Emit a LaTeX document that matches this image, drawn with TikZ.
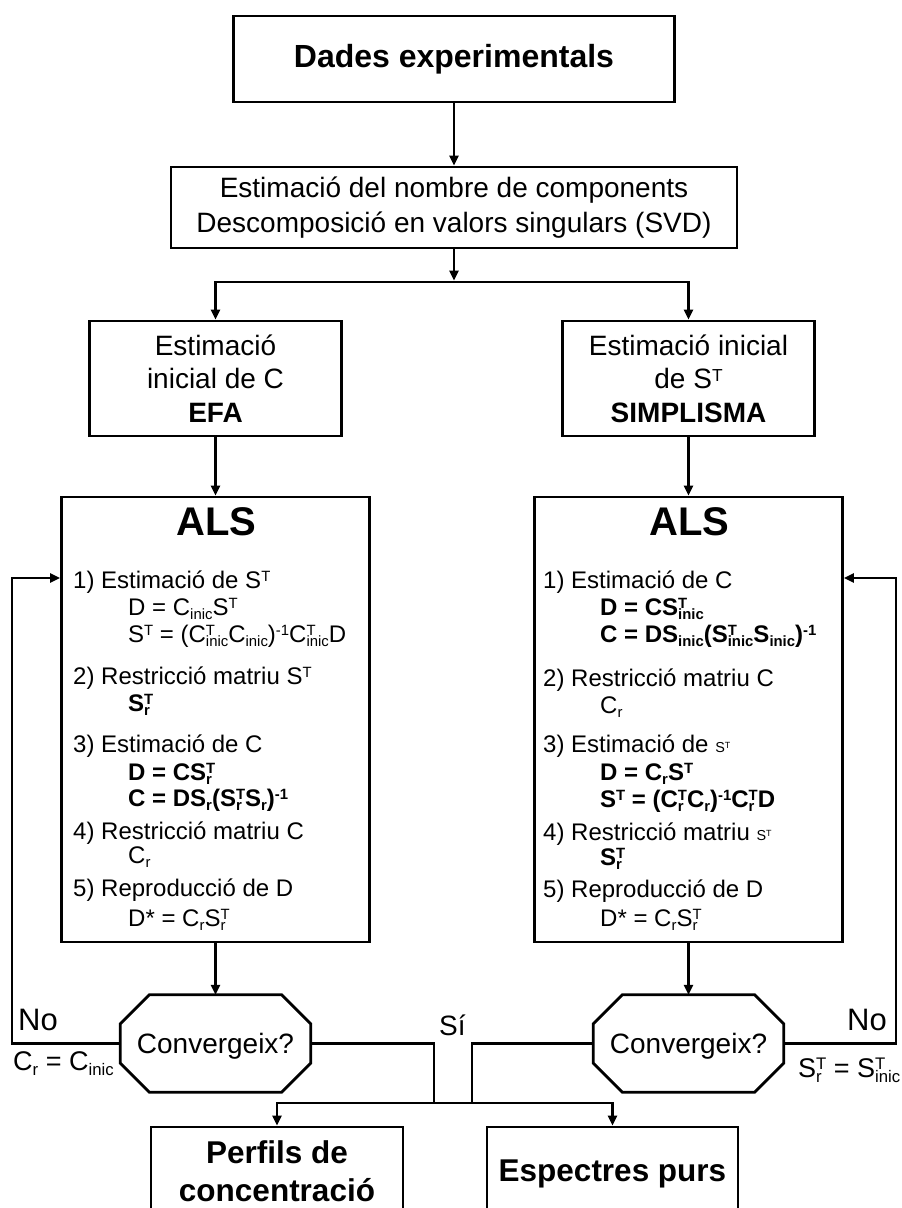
\documentclass[tikz,border=0pt]{standalone}
\usepackage{fontspec}
\setmainfont{Liberation Sans}
\usepackage{graphicx}
\usetikzlibrary{arrows.meta}

% small raised / lowered indices in the text font (no extra height or depth)
\newcommand\spx[1]{\raisebox{0.27em}[0pt][0pt]{\scalebox{0.62}{#1}}}
\newcommand\sbx[1]{\raisebox{-0.2em}[0pt][0pt]{\scalebox{0.62}{#1}}}
% superscript stacked over subscript
\newcommand\ssbx[2]{\begingroup\setbox0\hbox{\spx{#1}}\setbox2\hbox{\sbx{#2}}%
  \ifdim\wd0>\wd2 \rlap{\box2}\box0 \else\rlap{\box0}\box2 \fi\endgroup}
% chamfered decision outline drawn round a named node
\newcommand\drawoctagon[1]{\draw[line width=2.8pt]
  ([xshift=29pt]#1.north west) -- ([xshift=-29pt]#1.north east) --
  ([yshift=-29pt]#1.north east) -- ([yshift=29pt]#1.south east) --
  ([xshift=-29pt]#1.south east) -- ([xshift=29pt]#1.south west) --
  ([yshift=29pt]#1.south west) -- ([yshift=-29pt]#1.north west) -- cycle;}

\tikzset{
  box/.style={draw, line width=2.8pt, inner sep=0pt, align=center},
  conn/.style={line width=2.4pt},
  arr/.style={conn, -{Triangle[length=10pt,width=9pt]}},
  ln/.style={anchor=base west, inner sep=0pt, font=\fontsize{24}{28}\selectfont},
  lnb/.style={anchor=base west, inner sep=0pt, font=\fontsize{24}{28}\selectfont\bfseries},
  lab/.style={anchor=base west, inner sep=0pt},
}

\begin{document}
\begin{tikzpicture}[x=1pt,y=-1pt]
\useasboundingbox (0,0) rectangle (902,1208);
\clip (0,0) rectangle (902,1208);
\fill[white] (0,0) rectangle (902,1208);

% top of the flow
\node[box, minimum width=441pt, minimum height=86pt,
      font=\fontsize{32}{38}\selectfont\bfseries] (dades) at (454,59) {Dades experimentals};
\node[box, minimum width=566pt, minimum height=81pt,
      font=\fontsize{28}{35}\selectfont] (svd) at (454,207.5)
  {Estimació del nombre de components\\Descomposició en valors singulars (SVD)};

% initial estimates
\node[box, minimum width=252pt, minimum height=115pt,
      font=\fontsize{28}{33.5}\selectfont] (initC) at (215.5,378.5)
  {Estimació\\inicial de C\\\textbf{EFA}};
\node[box, minimum width=252pt, minimum height=115pt,
      font=\fontsize{28}{33.5}\selectfont] (initS) at (688.5,378.5)
  {Estimació inicial\\de S\spx{T}\\\textbf{SIMPLISMA}};

% ALS blocks
\node[box, minimum width=308pt, minimum height=445pt] (alsL) at (215.5,719.5) {};
\node[box, minimum width=308pt, minimum height=445pt] (alsR) at (688.5,719.5) {};
\node[anchor=base, inner sep=0pt, font=\fontsize{40}{48}\selectfont\bfseries] (alsLt) at (216.5,535) {ALS};
\node[anchor=base, inner sep=0pt, font=\fontsize{40}{48}\selectfont\bfseries] (alsRt) at (689.5,535) {ALS};

% left ALS steps
\node[ln]  (l1)  at (73,588)  {1) Estimació de S\spx{T}};
\node[ln]  (l1a) at (128,615) {D = C\sbx{inic}S\spx{T}};
\node[ln]  (l1b) at (128,642) {S\spx{T} = (C\ssbx{T}{inic}C\sbx{inic})\spx{-1}C\ssbx{T}{inic}D};
\node[ln]  (l2)  at (73,684)  {2) Restricció matriu S\spx{T}};
\node[lnb] (l2a) at (128,711) {S\ssbx{T}{r}};
\node[ln]  (l3)  at (73,752)  {3) Estimació de C};
\node[lnb] (l3a) at (128,780) {D = CS\ssbx{T}{r}};
\node[lnb] (l3b) at (128,806) {C = DS\sbx{r}(S\ssbx{T}{r}S\sbx{r})\spx{-1}};
\node[ln]  (l4)  at (73,839)  {4) Restricció matriu C};
\node[ln]  (l4a) at (128,863) {C\sbx{r}};
\node[ln]  (l5)  at (73,896)  {5) Reproducció de D};
\node[ln]  (l5a) at (128,926) {D* = C\sbx{r}S\ssbx{T}{r}};

% right ALS steps
\node[ln]  (r1)  at (543,588) {1) Estimació de C};
\node[lnb] (r1a) at (600,615) {D = CS\ssbx{T}{inic}};
\node[lnb] (r1b) at (600,642) {C = DS\sbx{inic}(S\ssbx{T}{inic}S\sbx{inic})\spx{-1}};
\node[ln]  (r2)  at (543,686) {2) Restricció matriu C};
\node[ln]  (r2a) at (600,713) {C\sbx{r}};
\node[ln]  (r3)  at (543,752) {3) Estimació de \scalebox{0.6}{S\spx{T}}};
\node[lnb] (r3a) at (600,780) {D = C\sbx{r}S\spx{T}};
\node[lnb] (r3b) at (600,807) {S\spx{T} = (C\ssbx{T}{r}C\sbx{r})\spx{-1}C\ssbx{T}{r}D};
\node[ln]  (r4)  at (543,840) {4) Restricció matriu \scalebox{0.6}{S\spx{T}}};
\node[lnb] (r4a) at (600,865) {S\ssbx{T}{r}};
\node[ln]  (r5)  at (543,897) {5) Reproducció de D};
\node[ln]  (r5a) at (600,926) {D* = C\sbx{r}S\ssbx{T}{r}};

% convergence tests
\node[inner sep=0pt, minimum width=190pt, minimum height=97pt, text depth=0pt,
      font=\fontsize{28}{34}\selectfont] (conL) at (215.5,1043.5) {Convergeix?};
\node[inner sep=0pt, minimum width=190pt, minimum height=97pt, text depth=0pt,
      font=\fontsize{28}{34}\selectfont] (conR) at (688.5,1043.5) {Convergeix?};
\drawoctagon{conL}
\drawoctagon{conR}

% results
\node[box, minimum width=252pt, minimum height=88pt,
      font=\fontsize{31.5}{38}\selectfont\bfseries] (perf) at (277,1171) {Perfils de\\concentració};
\node[box, minimum width=251pt, minimum height=94pt,
      font=\fontsize{31.5}{38}\selectfont\bfseries] (esp) at (612.5,1174) {Espectres purs};

% branch labels
\node[lab, font=\fontsize{31}{36}\selectfont] (noL) at (18,1030) {No};
\node[lab, font=\fontsize{27}{32}\selectfont] (eqL) at (13,1070) {C\sbx{r} = C\sbx{inic}};
\node[lab, font=\fontsize{31}{36}\selectfont] (noR) at (847,1030) {No};
\node[lab, font=\fontsize{27}{32}\selectfont] (eqR) at (798,1077) {S\ssbx{T}{r} = S\ssbx{T}{inic}};
\node[lab, font=\fontsize{28}{34}\selectfont] (si) at (439,1035) {Sí};

% connectors
\coordinate (spl) at (454,282);
\coordinate (lpL) at (12,578);
\coordinate (lpR) at (896,578);
\coordinate (jL) at (434,1103);
\coordinate (jR) at (472,1103);

\draw[arr] (dades) -- (svd);
\draw[arr, shorten >=1.5pt] (svd.south) -- (spl);
\draw[arr] (spl) -| (initC.north);
\draw[arr] (spl) -| (initS.north);
\draw[arr] (initC) -- (alsL);
\draw[arr] (initS) -- (alsR);
\draw[arr] (alsL) -- (conL);
\draw[arr] (alsR) -- (conR);
\draw[arr] (conL.west) -| (lpL) -- (lpL -| alsL.west);
\draw[arr] (conR.east) -| (lpR) -- (lpR -| alsR.east);
\draw[conn] (conL.east) -| (jL);
\draw[conn] (conR.west) -| (jR);
\draw[conn] (jL) -- (jR);
\draw[arr] (jL) -| (perf.north);
\draw[arr] (jR) -| (esp.north);
\end{tikzpicture}
\end{document}
